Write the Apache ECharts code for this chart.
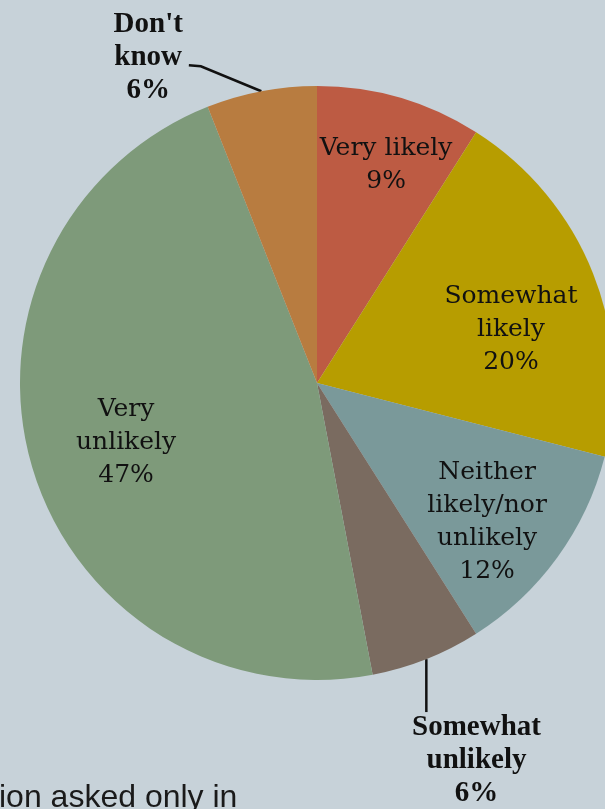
<!DOCTYPE html>
<html>
<head>
<meta charset="utf-8">
<script src="https://cdn.jsdelivr.net/npm/echarts@6/dist/echarts.min.js"></script>
<style>
  html, body { margin: 0; padding: 0; background: #c7d2d9; }
  #chart { width: 605px; height: 809px; }
</style>
</head>
<body>
<div id="chart"></div>
<script>
// Survey answers, clockwise from 12 o'clock
const categories = ['Very likely', 'Somewhat likely', 'Neither likely/nor unlikely', 'Somewhat unlikely', 'Very unlikely', "Don't know"];
const labelNames = ['Very likely', 'Somewhat\nlikely', 'Neither\nlikely/nor\nunlikely', 'Somewhat\nunlikely', 'Very\nunlikely', "Don't\nknow"];
const shares = [9, 20, 12, 6, 47, 6];
const sliceColors = ['#bd5b43', '#b79d00', '#7a999a', '#7a6b60', '#7e9a7a', '#b87c40'];
const outsideLabel = [false, false, false, true, false, true];
const footnote = 'ion asked only in';

// Pie geometry (pixels)
const CX = 317, CY = 383, R = 297;

// Where each label sits: fraction of radius and angular nudge (degrees) from the slice middle
const labelPlace = [
  { r: 0.77, da: 1.4 },
  { r: 0.677, da: 6.3 },
  { r: 0.74, da: 3.3 },
  { r: 1.38, da: -1.3 },
  { r: 0.673, da: -1.0 },
  { r: 1.235, da: -16.6 }
];

const total = shares.reduce((a, b) => a + b, 0);
const midAngles = [];
let acc = 0;
shares.forEach(v => { midAngles.push((acc + v / 2) / total * 360); acc += v; });

function polar(frac, deg) {
  const t = deg * Math.PI / 180;
  return [CX + frac * R * Math.sin(t), CY - frac * R * Math.cos(t)];
}

const insideLabel = {
  position: 'inside',
  fontFamily: 'DejaVu Serif',
  fontSize: 25,
  lineHeight: 33,
  color: '#111',
  align: 'center'
};
const boldLabel = {
  position: 'outside',
  fontFamily: 'Liberation Serif',
  fontWeight: 'bold',
  fontSize: 29,
  lineHeight: 33,
  color: '#111',
  align: 'center'
};

const pieData = categories.map((c, i) => ({
  name: labelNames[i],
  value: shares[i],
  itemStyle: { color: sliceColors[i] },
  label: outsideLabel[i] ? boldLabel : insideLabel,
  labelLine: {
    show: outsideLabel[i],
    lineStyle: { color: '#111', width: 2.5 }
  }
}));

const chart = echarts.init(document.getElementById('chart'), null, { renderer: 'canvas' });
chart.setOption({
  backgroundColor: '#c7d2d9',
  animation: false,
  graphic: [{
    type: 'text',
    left: -1,
    top: 782,
    style: { text: footnote, font: '32px "Liberation Sans"', fill: '#1a1a1a' }
  }],
  series: [{
    type: 'pie',
    center: [CX, CY],
    radius: R,
    startAngle: 90,
    clockwise: true,
    avoidLabelOverlap: false,
    data: pieData,
    itemStyle: { borderWidth: 0 },
    label: {
      formatter: p => p.name + '\n' + p.value + '%'
    },
    labelLine: { length: 20, length2: 10 },
    emphasis: { disabled: true },
    labelLayout: function (params) {
      const i = params.dataIndex;
      const place = labelPlace[i];
      const [x, y] = polar(place.r, midAngles[i] + place.da);
      const out = { x: x, y: y, align: 'center', verticalAlign: 'middle' };
      const w = params.labelRect.width, h = params.labelRect.height;
      const edge = polar(1, midAngles[i]);
      if (i === 5) {
        out.labelLinePoints = [edge, [x + w / 2 + 18, y + 9], [x + w / 2 + 6, y + 8]];
      } else if (i === 3) {
        const endY = y - h / 2 + 1;
        out.labelLinePoints = [edge, [edge[0], (edge[1] + endY) / 2], [edge[0], endY]];
      }
      return out;
    }
  }]
});
</script>
</body>
</html>
